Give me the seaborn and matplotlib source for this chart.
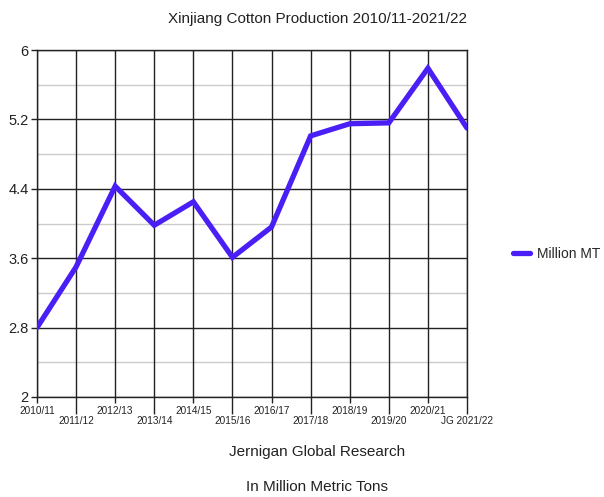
import matplotlib
matplotlib.use("Agg")
import matplotlib.pyplot as plt
import seaborn as sns
import pandas as pd
import numpy as np

seasons = ["2010/11", "2011/12", "2012/13", "2013/14", "2014/15", "2015/16",
           "2016/17", "2017/18", "2018/19", "2019/20", "2020/21", "JG 2021/22"]
production = [2.80, 3.50, 4.43, 3.98, 4.25, 3.61, 3.96, 5.01, 5.15, 5.16, 5.79, 5.10]
y_ticks = [2, 2.8, 3.6, 4.4, 5.2, 6]
y_minor = [2.4, 3.2, 4.0, 4.8, 5.6]

sns.set_theme(style="white")
plt.rcParams["font.family"] = ["Liberation Sans", "DejaVu Sans"]

df = pd.DataFrame({"idx": np.arange(len(seasons)), "value": production})

fig = plt.figure(figsize=(6.04, 4.97), dpi=100)
ax = fig.add_axes([37 / 604, 1 - 397 / 497, 430 / 604, 347 / 497])

line_color = "#4a1ff5"
sns.lineplot(data=df, x="idx", y="value", ax=ax, color=line_color, linewidth=3.8,
             solid_capstyle="round", solid_joinstyle="miter", label="Million MT",
             legend=False, zorder=5)

ax.set_xlim(0, len(seasons) - 1)
ax.set_ylim(2, 6)

# gridlines
for v in y_minor:
    ax.axhline(v, color="#cccccc", linewidth=1.0, zorder=1)
for v in y_ticks:
    ax.axhline(v, color="#222222", linewidth=1.0, zorder=2)
for i in range(len(seasons)):
    ax.axvline(i, color="#222222", linewidth=1.0, zorder=2)

for s in ax.spines.values():
    s.set_color("#222222")
    s.set_linewidth(1.0)

ax.set_yticks(y_ticks)
ax.set_yticklabels([f"{v:g}" for v in y_ticks], fontsize=10.5, color="#222222")
ax.tick_params(axis="y", length=4, width=1, color="#222222", pad=2, left=True)

even = list(range(0, len(seasons), 2))
odd = list(range(1, len(seasons), 2))
ax.set_xticks(even)
ax.set_xticklabels([seasons[i] for i in even], fontsize=7.2, color="#222222")
ax.set_xticks(odd, minor=True)
ax.set_xticklabels([seasons[i] for i in odd], minor=True, fontsize=7.2, color="#222222")
ax.tick_params(axis="x", which="major", length=4, width=1, color="#222222", pad=2.8, bottom=True)
ax.tick_params(axis="x", which="minor", length=12, width=1, color="#222222", pad=1.7, bottom=True)

ax.set_xlabel("")
ax.set_ylabel("")

fig.text(317 / 604, 1 - 19 / 497, "Xinjiang Cotton Production 2010/11-2021/22",
         ha="center", va="center", fontsize=11, color="#222222")
fig.text(317 / 604, 1 - 452 / 497, "Jernigan Global Research",
         ha="center", va="center", fontsize=11, color="#222222")
fig.text(317 / 604, 1 - 487 / 497, "In Million Metric Tons",
         ha="center", va="center", fontsize=11, color="#222222")

handles, labels = ax.get_legend_handles_labels()
fig.legend(handles, labels, loc="center left", bbox_to_anchor=(513 / 604, 1 - 254 / 497),
           frameon=False, fontsize=10, handlelength=1.2, handletextpad=0.5,
           borderaxespad=0, borderpad=0)

fig.savefig("out.png", dpi=100)
